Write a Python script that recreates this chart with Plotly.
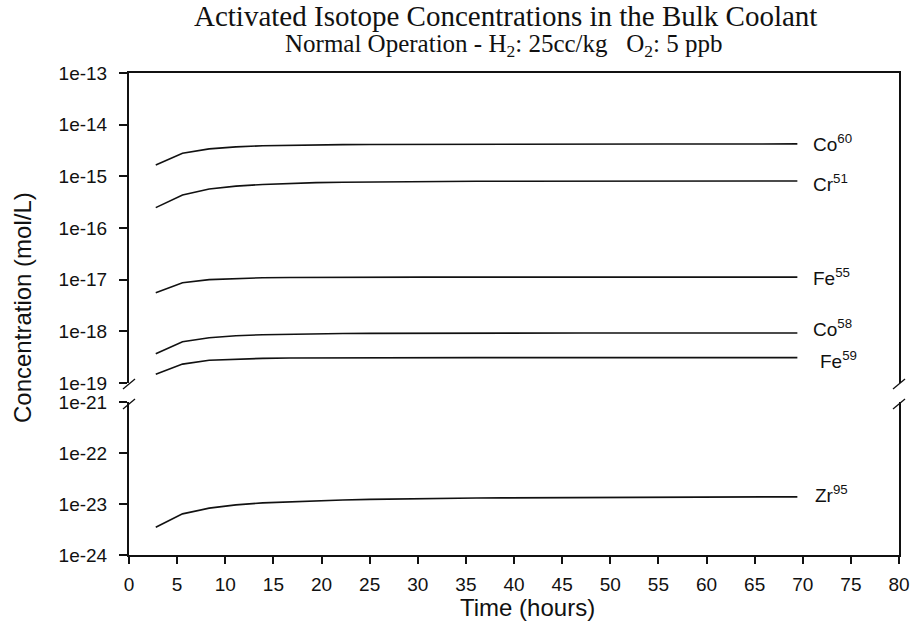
import math
import plotly.graph_objects as go

# Time after start of operation (hours)
time_h = [2.78, 5.56, 8.33, 11.11, 13.89, 16.67, 19.44, 22.22, 25.0, 27.78,
          30.56, 33.33, 36.11, 38.89, 41.67, 44.44, 47.22, 50.0, 52.78, 55.56,
          58.33, 61.11, 63.89, 66.67, 69.44]

# Bulk coolant concentrations (mol/L)
co60 = [1.66e-15, 2.80e-15, 3.40e-15, 3.72e-15, 3.90e-15, 4.00e-15, 4.06e-15, 4.10e-15,
        4.13e-15, 4.15e-15, 4.17e-15, 4.18e-15, 4.19e-15, 4.20e-15, 4.20e-15, 4.21e-15,
        4.21e-15, 4.22e-15, 4.22e-15, 4.22e-15, 4.23e-15, 4.23e-15, 4.23e-15, 4.23e-15, 4.24e-15]
cr51 = [2.48e-16, 4.37e-16, 5.70e-16, 6.45e-16, 6.95e-16, 7.30e-16, 7.55e-16, 7.70e-16,
        7.80e-16, 7.88e-16, 7.94e-16, 7.98e-16, 8.01e-16, 8.03e-16, 8.05e-16, 8.06e-16,
        8.07e-16, 8.08e-16, 8.09e-16, 8.09e-16, 8.10e-16, 8.10e-16, 8.10e-16, 8.11e-16, 8.11e-16]
fe55 = [5.60e-18, 8.70e-18, 1.00e-17, 1.06e-17, 1.09e-17, 1.10e-17, 1.11e-17, 1.115e-17,
        1.12e-17, 1.12e-17, 1.12e-17, 1.12e-17, 1.12e-17, 1.12e-17, 1.12e-17, 1.12e-17,
        1.12e-17, 1.12e-17, 1.12e-17, 1.12e-17, 1.12e-17, 1.12e-17, 1.12e-17, 1.12e-17, 1.12e-17]
co58 = [3.67e-19, 6.30e-19, 7.50e-19, 8.20e-19, 8.60e-19, 8.85e-19, 9.00e-19, 9.10e-19,
        9.15e-19, 9.20e-19, 9.22e-19, 9.24e-19, 9.26e-19, 9.27e-19, 9.28e-19, 9.29e-19,
        9.30e-19, 9.30e-19, 9.30e-19, 9.30e-19, 9.30e-19, 9.30e-19, 9.30e-19, 9.30e-19, 9.30e-19]
fe59 = [1.48e-19, 2.32e-19, 2.75e-19, 2.92e-19, 3.00e-19, 3.04e-19, 3.06e-19, 3.07e-19,
        3.08e-19, 3.09e-19, 3.09e-19, 3.10e-19, 3.10e-19, 3.10e-19, 3.10e-19, 3.10e-19,
        3.10e-19, 3.10e-19, 3.10e-19, 3.10e-19, 3.10e-19, 3.10e-19, 3.10e-19, 3.10e-19, 3.10e-19]
zr95 = [3.50e-24, 6.40e-24, 8.30e-24, 9.60e-24, 1.05e-23, 1.11e-23, 1.16e-23, 1.20e-23,
        1.23e-23, 1.26e-23, 1.28e-23, 1.30e-23, 1.31e-23, 1.32e-23, 1.33e-23, 1.34e-23,
        1.35e-23, 1.35e-23, 1.36e-23, 1.36e-23, 1.37e-23, 1.37e-23, 1.37e-23, 1.38e-23, 1.38e-23]

# (label, values, x offset px, y offset px)
upper_series = [("Co<sup>60</sup>", co60, 0, 1), ("Cr<sup>51</sup>", cr51, 0, -2),
                ("Fe<sup>55</sup>", fe55, 0, 0), ("Co<sup>58</sup>", co58, 0, 5),
                ("Fe<sup>59</sup>", fe59, 7, -2)]
lower_series = [("Zr<sup>95</sup>", zr95, 2, 3)]

upper_tickvals = [1e-13, 1e-14, 1e-15, 1e-16, 1e-17, 1e-18, 1e-19]
upper_ticktext = ["1e-13", "1e-14", "1e-15", "1e-16", "1e-17", "1e-18", "1e-19"]
lower_tickvals = [1e-21, 1e-22, 1e-23, 1e-24]
lower_ticktext = ["1e-21", "1e-22", "1e-23", "1e-24"]
x_tickvals = list(range(0, 81, 5))

W, H = 911, 625
ML, MR, MT, MB = 129, 12, 73, 70
PW, PH = W - ML - MR, H - MT - MB
upper_dom = [(H - MB - 383) / PH, 1.0]
lower_dom = [0.0, (H - MB - 402) / PH]

SANS = "Liberation Sans, Arial, sans-serif"
SERIF = "Liberation Serif, Times New Roman, serif"
tick_font = dict(family=SANS, size=19, color="#111")
label_font = dict(family=SANS, size=19, color="#111")
line_style = dict(color="#111", width=1.6)

fig = go.Figure()
for name, vals, _, _ in upper_series:
    fig.add_trace(go.Scatter(x=time_h, y=vals, mode="lines", line=line_style,
                             name=name, xaxis="x2", yaxis="y2", showlegend=False))
for name, vals, _, _ in lower_series:
    fig.add_trace(go.Scatter(x=time_h, y=vals, mode="lines", line=line_style,
                             name=name, xaxis="x", yaxis="y", showlegend=False))

annotations = []
for name, vals, dx, dy in upper_series:
    annotations.append(dict(x=70.9, y=math.log10(vals[-1]), xref="x2", yref="y2",
                            text=name, showarrow=False, xanchor="left", yanchor="middle",
                            xshift=dx, yshift=dy, font=label_font))
for name, vals, dx, dy in lower_series:
    annotations.append(dict(x=70.9, y=math.log10(vals[-1]), xref="x", yref="y",
                            text=name, showarrow=False, xanchor="left", yanchor="middle",
                            xshift=dx, yshift=dy, font=label_font))

# Titles
annotations += [
    dict(x=(505 - ML) / PW, y=1 + (MT - 16) / PH, xref="paper", yref="paper",
         text="Activated Isotope Concentrations in the Bulk Coolant", showarrow=False,
         font=dict(family=SERIF, size=29, color="#111"),
         xanchor="center", yanchor="middle"),
    dict(x=(504 - ML) / PW, y=1 + (MT - 46) / PH, xref="paper", yref="paper",
         text="Normal Operation - H<sub>2</sub>: 25cc/kg   O<sub>2</sub>: 5 ppb", showarrow=False,
         font=dict(family=SERIF, size=25, color="#111"),
         xanchor="center", yanchor="middle"),
    dict(x=(22 - ML) / PW, y=(H - MB - 308) / PH, xref="paper", yref="paper",
         text="Concentration (mol/L)", showarrow=False, textangle=-90,
         font=dict(family=SANS, size=24, color="#111"),
         xanchor="center", yanchor="middle"),
    dict(x=(527 - ML) / PW, y=-(607 - (H - MB)) / PH, xref="paper", yref="paper",
         text="Time (hours)", showarrow=False,
         font=dict(family=SANS, size=24, color="#111"),
         xanchor="center", yanchor="middle"),
]

# Axis-break slashes on both vertical axes
shapes = []
for px in (ML, W - MR):
    for py in (384, 404):
        x0 = (px - 6 - ML) / PW
        x1 = (px + 6 - ML) / PW
        y0 = (H - MB - (py + 5)) / PH
        y1 = (H - MB - (py - 5)) / PH
        shapes.append(dict(type="line", xref="paper", yref="paper",
                           x0=x0, x1=x1, y0=y0, y1=y1,
                           line=dict(color="#111", width=1.3)))

axis_common = dict(showgrid=False, zeroline=False, showline=True, linecolor="#111",
                   linewidth=2, tickfont=tick_font, tickcolor="#111", automargin=False)

fig.update_layout(
    width=W, height=H,
    margin=dict(l=ML, r=MR, t=MT, b=MB),
    paper_bgcolor="white", plot_bgcolor="white",
    annotations=annotations, shapes=shapes,
    xaxis=dict(axis_common, domain=[0, 1], range=[0, 80], anchor="y",
               tickvals=x_tickvals, ticks="outside", ticklen=7, tickwidth=2,
               ticklabelstandoff=4),
    xaxis2=dict(axis_common, domain=[0, 1], range=[0, 80], anchor="y2", side="top",
                matches="x", showticklabels=False, ticks=""),
    yaxis=dict(axis_common, type="log", domain=lower_dom, range=[-24, -21], anchor="x",
               tickvals=lower_tickvals, ticktext=lower_ticktext, ticks="outside",
               ticklen=8, tickwidth=2, mirror=True, ticklabelstandoff=8),
    yaxis2=dict(axis_common, type="log", domain=upper_dom, range=[-19, -13], anchor="x2",
                tickvals=upper_tickvals, ticktext=upper_ticktext, ticks="outside",
                ticklen=8, tickwidth=2, mirror=True, ticklabelstandoff=8),
)

fig.write_html("out.html")
